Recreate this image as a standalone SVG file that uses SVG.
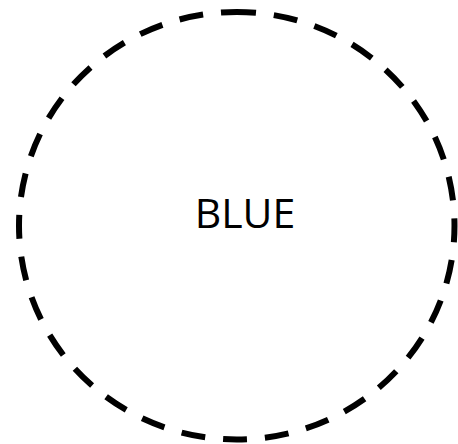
<svg xmlns="http://www.w3.org/2000/svg" width="458" height="444" viewBox="0 0 458 444">
<style>
.ring{fill:none;stroke:#000;stroke-width:6;stroke-dasharray:24 18;stroke-dashoffset:4.75}
.lbl{font-family:"Open Sans","Liberation Sans",sans-serif;font-size:41px;fill:#000;text-anchor:middle}
</style>
<rect width="458" height="444" fill="#fff"/>
<g id="blue">
<path class="ring" d="M236.75,12 A217.75,213.75 0 0 1 236.75,439.5 A217.75,213.75 0 0 1 236.75,12 Z"/>
<text class="lbl" x="245" y="228">BLUE</text>
</g>
</svg>
